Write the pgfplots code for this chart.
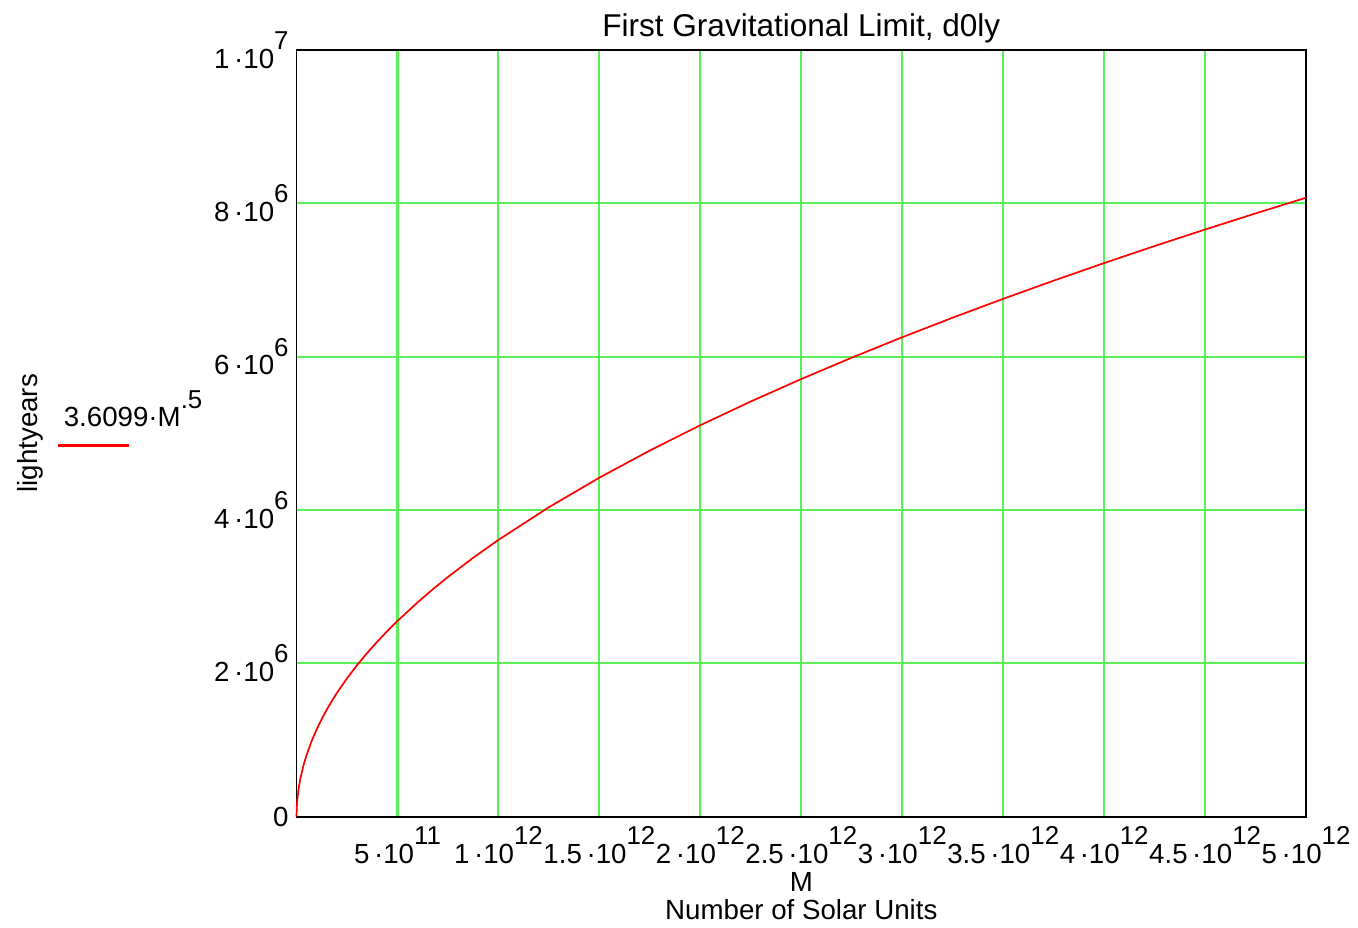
\documentclass[border=0pt]{standalone}
\usepackage{pgfplots}
\pgfplotsset{compat=1.18}
\usepackage{fontspec}
\setmainfont{Liberation Sans}
\definecolor{gridgreen}{RGB}{90,240,90}
\newcommand\sx[1]{\raisebox{0.68em}{\fontsize{11.4}{11.4}\selectfont #1}}
\newcommand\e[2]{#1\,·10\sx{#2}}

\pgfplotstableread{
M y
0 0
1e7 11416
1e8 36099
1e9 114155
3e9 197723
5e9 255260
1e10 360990
1.5e10 442118
2e10 510518
3.5e10 675351
5e10 807196
7.5e10 988611
1e11 1141550
1.25e11 1276291
1.5e11 1398108
1.75e11 1510129
2e11 1614405
2.5e11 1804950
3e11 1977227
3.5e11 2135647
4e11 2283103
4.5e11 2421594
5e11 2552588
6e11 2796217
6.75e11 2965836
7.5e11 3126286
8.75e11 3376750
1e12 3609900
1.25e12 4035980
1.5e12 4421209
1.75e12 4775450
2e12 5105170
2.25e12 5414850
2.5e12 5707835
2.75e12 5986340
3e12 6252531
3.25e12 6507841
3.5e12 6753506
3.75e12 6990542
4e12 7219800
4.25e12 7442000
4.5e12 7657756
4.75e12 7867593
5e12 8071938
}\dzero

\begin{document}
\begin{tikzpicture}
\tikzstyle{every node}=[font=\fontsize{12.2}{13}\selectfont]
\begin{axis}[
    width=445pt, height=338pt,
    scale only axis,
    xmin=0, xmax=5e12,
    ymin=0, ymax=1e7,
    axis line style={line width=0.8pt},
    major tick length=0pt,
    grid=major,
    major grid style={gridgreen, line width=0.9pt},
    xtick={5e11,1e12,1.5e12,2e12,2.5e12,3e12,3.5e12,4e12,4.5e12,5e12},
    xticklabels={\e{5}{11},\e{1}{12},\e{1.5}{12},\e{2}{12},\e{2.5}{12},\e{3}{12},\e{3.5}{12},\e{4}{12},\e{4.5}{12},\e{5}{12}},
    ytick={0,2e6,4e6,6e6,8e6,1e7},
    yticklabels={0,\e{2}{6},\e{4}{6},\e{6}{6},\e{8}{6},\e{1}{7}},
    xticklabel style={yshift=-1pt},
    scaled x ticks=false, scaled y ticks=false,
    title={First Gravitational Limit, d0ly},
    title style={font=\fontsize{13.9}{15}\selectfont, yshift=-6.5pt},
    xlabel={M\\Number of Solar Units},
    xlabel style={align=center, font=\fontsize{12.2}{12.3}\selectfont, yshift=3pt},
    ylabel={lightyears},
    ylabel style={at={(rel axis cs:-0.264,0.5)}, anchor=center},
    clip=false,
]
\addplot[red, line width=0.75pt] table[x=M, y=y] {\dzero};
\node[anchor=west, inner sep=0pt] at (rel axis cs:-0.231,0.532) {3.6099·M\sx{.5}};
\draw[red, line width=1pt] (rel axis cs:-0.236,0.484) -- (rel axis cs:-0.166,0.484);
\path (rel axis cs:-0.2938,-0.1406) rectangle (rel axis cs:1.0495,1.0651);
\end{axis}
\end{tikzpicture}
\end{document}
